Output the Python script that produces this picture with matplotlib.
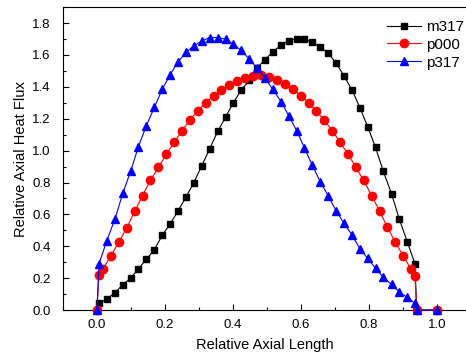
import matplotlib.pyplot as plt
from matplotlib.ticker import MultipleLocator

plt.rcParams['font.family'] = ['Liberation Sans', 'DejaVu Sans']

# shared x grid for m317 and p317
x_grid = [0.006, 0.029, 0.053, 0.076, 0.099, 0.122, 0.145, 0.169, 0.192, 0.215,
          0.238, 0.262, 0.285, 0.308, 0.331, 0.355, 0.378, 0.401, 0.424, 0.448,
          0.471, 0.494, 0.517, 0.541, 0.564, 0.587, 0.610, 0.633, 0.657, 0.680,
          0.703, 0.726, 0.750, 0.773, 0.796, 0.819, 0.842, 0.866, 0.889, 0.912,
          0.935]
# p000 sits on the half-step grid, plus both end points
x_p000 = [0.006, 0.018, 0.041, 0.064, 0.088, 0.111, 0.134, 0.157, 0.181, 0.204,
          0.227, 0.250, 0.273, 0.297, 0.320, 0.343, 0.366, 0.389, 0.413, 0.436,
          0.459, 0.482, 0.506, 0.529, 0.552, 0.575, 0.599, 0.622, 0.645, 0.668,
          0.691, 0.715, 0.738, 0.761, 0.784, 0.808, 0.831, 0.854, 0.877, 0.900,
          0.923, 0.935]

m317 = [0.042, 0.069, 0.109, 0.159, 0.199, 0.259, 0.318, 0.379, 0.469, 0.540,
        0.620, 0.710, 0.800, 0.904, 1.010, 1.120, 1.210, 1.300, 1.380, 1.440,
        1.520, 1.570, 1.620, 1.660, 1.690, 1.700, 1.700, 1.680, 1.650, 1.610,
        1.550, 1.470, 1.380, 1.270, 1.150, 1.020, 0.870, 0.730, 0.570, 0.430,
        0.290]
p000 = [0.220, 0.260, 0.340, 0.425, 0.517, 0.620, 0.718, 0.813, 0.896, 0.977,
        1.053, 1.124, 1.193, 1.251, 1.301, 1.345, 1.381, 1.412, 1.439, 1.455,
        1.471, 1.473, 1.461, 1.440, 1.419, 1.385, 1.345, 1.301, 1.249, 1.193,
        1.126, 1.053, 0.979, 0.896, 0.814, 0.716, 0.621, 0.519, 0.427, 0.341,
        0.259, 0.215]
p317 = [0.289, 0.435, 0.571, 0.732, 0.870, 1.025, 1.155, 1.272, 1.385, 1.475,
        1.555, 1.617, 1.657, 1.687, 1.709, 1.709, 1.699, 1.668, 1.628, 1.574,
        1.517, 1.454, 1.385, 1.308, 1.218, 1.126, 1.017, 0.908, 0.803, 0.716,
        0.623, 0.544, 0.471, 0.385, 0.324, 0.262, 0.205, 0.161, 0.113, 0.080,
        0.042]

# zero end points on both sides of the core
x_start, x_end, x_out = 0.0, 0.94, 1.0

fig = plt.figure(figsize=(4.66, 3.56), dpi=100)
ax = fig.add_axes([0.135, 0.129, 0.865, 0.851])

series = [
    ('m317', x_grid, m317, 'black', 's', 4.8),
    ('p000', x_p000, p000, 'red', 'o', 6.0),
    ('p317', x_grid, p317, 'blue', '^', 6.3),
]
for name, xs, ys, color, marker, ms in series:
    xx = [x_start] + xs + [x_end, x_out]
    yy = [0.0] + ys + [0.0, 0.0]
    ax.plot(xx, yy, color=color, marker=marker, markersize=ms, lw=0.8,
            label=name, clip_on=False, zorder=3)

ax.set_xlim(-0.1, 1.085)
ax.set_ylim(0, 1.9)
ax.xaxis.set_major_locator(MultipleLocator(0.2))
ax.xaxis.set_minor_locator(MultipleLocator(0.1))
ax.yaxis.set_major_locator(MultipleLocator(0.2))
ax.yaxis.set_minor_locator(MultipleLocator(0.1))
ax.xaxis.set_major_formatter(plt.FuncFormatter(lambda v, p: f'{v:.1f}'))
ax.yaxis.set_major_formatter(plt.FuncFormatter(lambda v, p: f'{v:.1f}'))
ax.tick_params(which='both', direction='in', labelsize=9.5, width=0.8)
ax.tick_params(which='major', length=4)
ax.tick_params(which='minor', length=2.5)
ax.tick_params(axis='y', which='major', pad=9)
ax.tick_params(axis='x', which='major', pad=6.5)
ax.spines['right'].set_visible(False)

ax.set_xlabel('Relative Axial Length', fontsize=10.5, labelpad=5)
ax.set_ylabel('Relative Axial Heat Flux', fontsize=10.5, labelpad=3)

ax.legend(loc='upper right', bbox_to_anchor=(1.01, 0.978), frameon=False,
          fontsize=11, handlelength=2.2, handletextpad=0.35, borderaxespad=0,
          labelspacing=0.25)

fig.savefig('out.png', dpi=100)
